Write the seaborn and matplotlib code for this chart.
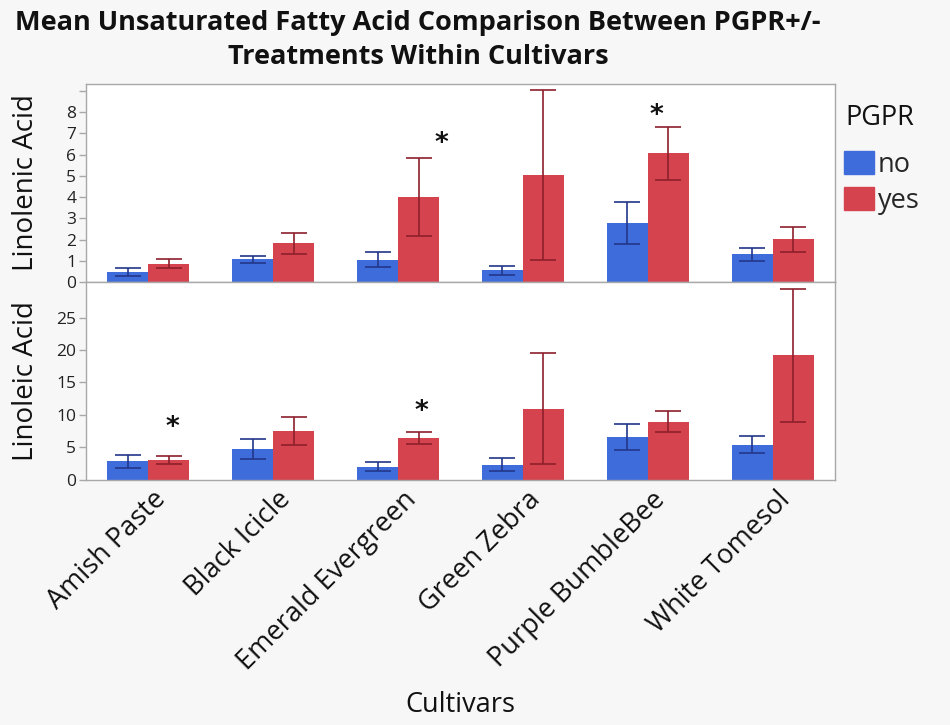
import matplotlib
matplotlib.use("Agg")
import matplotlib.pyplot as plt
import matplotlib.transforms as mtransforms
import seaborn as sns
import pandas as pd

# Cultivars and PGPR treatment levels
cultivars = ["Amish Paste", "Black Icicle", "Emerald Evergreen",
             "Green Zebra", "Purple BumbleBee", "White Tomesol"]
pgpr_levels = ["no", "yes"]

# Linolenic acid means and error half-widths
linolenic_no = [0.47, 1.07, 1.05, 0.55, 2.78, 1.30]
linolenic_no_err = [0.17, 0.17, 0.36, 0.20, 0.97, 0.30]
linolenic_yes = [0.87, 1.82, 4.00, 5.05, 6.06, 2.01]
linolenic_yes_err = [0.23, 0.50, 1.85, 4.00, 1.25, 0.60]

# Linoleic acid means and error half-widths
linoleic_no = [2.85, 4.75, 1.98, 2.30, 6.55, 5.38]
linoleic_no_err = [1.00, 1.55, 0.65, 1.00, 2.07, 1.29]
linoleic_yes = [3.00, 7.50, 6.40, 10.95, 8.95, 19.20]
linoleic_yes_err = [0.67, 2.20, 0.95, 8.60, 1.57, 10.26]

# Significance markers: (x position on the category axis, height)
linolenic_stars = [(2.35, 6.5), (4.07, 7.8)]
linoleic_stars = [(0.19, 8.0), (2.19, 10.4)]

# Tick values and labels
linolenic_ticks = [0, 1, 2, 3, 4, 5, 6, 7, 8, 9]
linolenic_ticklabels = ["0", "1", "2", "3", "4", "5", "6", "7", "8", ""]
linoleic_ticks = [0, 5, 10, 15, 20, 25]

title_lines = ["Mean Unsaturated Fatty Acid Comparison Between PGPR+/-",
               "Treatments Within Cultivars"]

bar_colors = {"no": "#3E6CDA", "yes": "#D5434F"}
err_colors = {"no": "#23368A", "yes": "#8E1F2C"}

sns.set_style("white")
plt.rcParams["font.family"] = ["Open Sans", "DejaVu Sans"]

fig = plt.figure(figsize=(9.5, 7.25), dpi=100, facecolor="#F7F7F7")
left, width = 86 / 950, 749 / 950
ax_top = fig.add_axes([left, 1 - 282 / 725, width, 198 / 725])
ax_bot = fig.add_axes([left, 1 - 479.5 / 725, width, 197.5 / 725])


def draw_panel(ax, no_vals, no_err, yes_vals, yes_err, stars, ylab):
    df = pd.DataFrame({
        "Cultivars": cultivars * 2,
        "PGPR": ["no"] * len(cultivars) + ["yes"] * len(cultivars),
        "value": list(no_vals) + list(yes_vals),
    })
    errs = {"no": no_err, "yes": yes_err}
    sns.barplot(data=df, x="Cultivars", y="value", hue="PGPR",
                order=cultivars, hue_order=pgpr_levels, palette=bar_colors,
                errorbar=None, width=0.656, gap=0, saturation=1,
                linewidth=0, ax=ax, legend=False)
    for level, cont in zip(pgpr_levels, ax.containers):
        xs = [p.get_x() + p.get_width() / 2 for p in cont.patches]
        ys = [p.get_height() for p in cont.patches]
        ax.errorbar(xs, ys, yerr=errs[level], fmt="none",
                    ecolor=err_colors[level], elinewidth=1.2,
                    capsize=9.5, capthick=1.2, zorder=3)
    for x, h in stars:
        ax.text(x, h, "*", ha="center", va="center",
                fontsize=19, fontweight="bold", color="#111111",
                family="DejaVu Sans")
    ax.set_xlim(-0.5, len(cultivars) - 0.5)
    ax.set_facecolor("white")
    for s in ax.spines.values():
        s.set_color("#A8A8A8")
        s.set_linewidth(1.0)
    ax.tick_params(axis="y", which="major", length=5, width=1,
                   color="#A8A8A8", labelsize=12.5, labelcolor="#222222",
                   left=True, pad=2)
    ax.set_ylabel(ylab, fontsize=20, color="#111111")
    ax.yaxis.set_label_coords(-46 / 749, 0.5)


draw_panel(ax_top, linolenic_no, linolenic_no_err, linolenic_yes,
           linolenic_yes_err, linolenic_stars, "Linolenic Acid")
draw_panel(ax_bot, linoleic_no, linoleic_no_err, linoleic_yes,
           linoleic_yes_err, linoleic_stars, "Linoleic Acid")

ax_top.set_ylim(0, 9.33)
ax_top.set_yticks(linolenic_ticks)
ax_top.set_yticklabels(linolenic_ticklabels)
ax_top.set_xlabel("")
ax_top.set_xticklabels([])
ax_top.tick_params(axis="x", bottom=False)

ax_bot.set_ylim(0, 30.5)
ax_bot.set_yticks(linoleic_ticks)
ax_bot.tick_params(axis="x", bottom=False, labelsize=19.5, pad=1,
                   labelcolor="#111111")
shift = mtransforms.ScaledTranslation(4 / 100, 0, fig.dpi_scale_trans)
for lab in ax_bot.get_xticklabels():
    lab.set_rotation(45)
    lab.set_ha("right")
    lab.set_rotation_mode("anchor")
    lab.set_transform(lab.get_transform() + shift)
ax_bot.set_xlabel("Cultivars", fontsize=19.5, color="#111111")
ax_bot.xaxis.set_label_coords(0.5, -(705 - 479.5) / 197.5)
ax_bot.xaxis.label.set_va("center")

# Legend: title placed as its own text, swatches below
fig.text(845 / 950, 1 - 118 / 725, "PGPR", ha="left", va="center",
         fontsize=19.5, color="#111111")
handles = [plt.Rectangle((0, 0), 1, 1, color=bar_colors[k]) for k in pgpr_levels]
fig.legend(handles, pgpr_levels, loc="upper left",
           bbox_to_anchor=(844 / 950, 1 - 151 / 725), frameon=False,
           fontsize=19.5, handlelength=1.1, handleheight=0.95,
           handletextpad=0.15, labelspacing=0.3, borderpad=0,
           borderaxespad=0)

# Two-line bold title
for line, base in zip(title_lines, [29.5, 64.5]):
    fig.text(418 / 950, 1 - base / 725, line, ha="center", va="baseline",
             fontsize=19.5, fontweight="bold", color="#111111")

fig.savefig("out.png", dpi=100, facecolor=fig.get_facecolor())
